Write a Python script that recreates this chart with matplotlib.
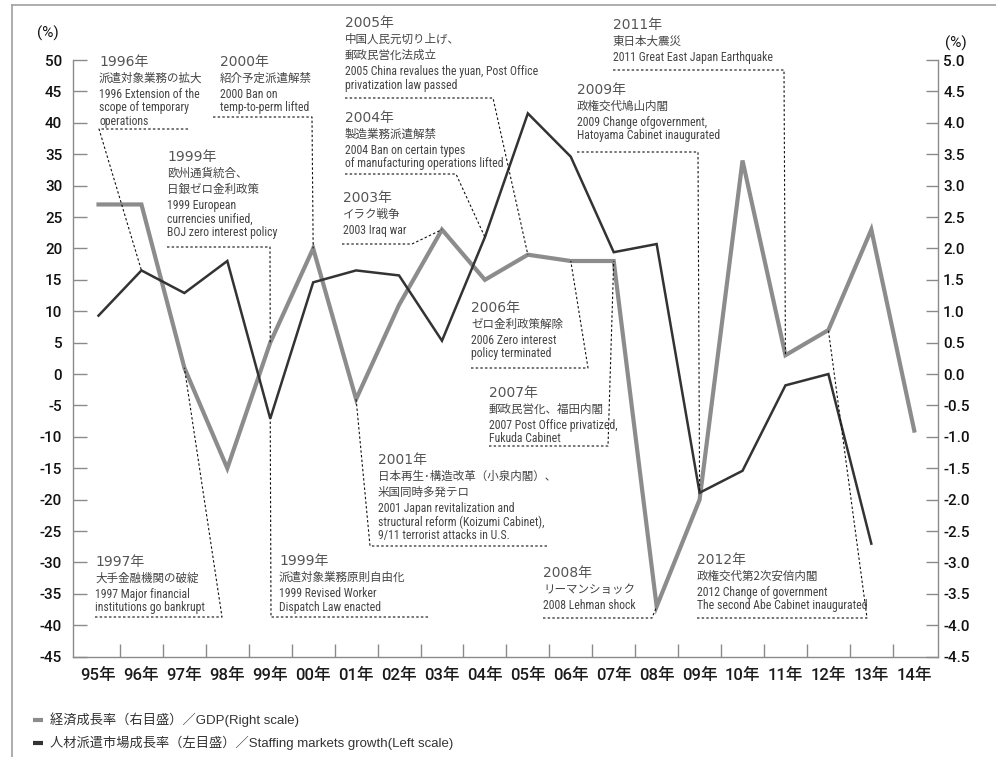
"""Staffing market growth vs Japanese GDP growth, 1995-2014, with event annotations."""

import matplotlib

matplotlib.use("Agg")
import matplotlib.pyplot as plt
import numpy as np
from matplotlib import font_manager
from matplotlib.transforms import Affine2D

W, H = 996, 757

years = ["95年", "96年", "97年", "98年", "99年", "00年", "01年", "02年", "03年", "04年",
         "05年", "06年", "07年", "08年", "09年", "10年", "11年", "12年", "13年", "14年"]
# GDP growth, right scale (%)
gdp = [2.7, 2.7, 0.1, -1.5, 0.5, 2.0, -0.4, 1.1, 2.3, 1.5,
       1.9, 1.8, 1.8, -3.7, -2.0, 3.4, 0.3, 0.7, 2.3, -0.9]
# staffing market growth, left scale (%), no value for 2014
staffing = [9.3, 16.5, 12.9, 18.0, -7.1, 14.6, 16.5, 15.7, 5.3, 21.8,
            41.5, 34.6, 19.4, 20.7, -18.9, -15.4, -1.8, 0.0, -27.0]

legend_labels = ["経済成長率（右目盛）／GDP(Right scale)",
                 "人材派遣市場成長率（左目盛）／Staffing markets growth(Left scale)"]

# event notes: text x, heading y (reference pixels), heading, jp lines, en lines,
# underline y, underline x0, x1, which end the leader leaves from, target point
events = [
    (99, 62, "1996年", ["派遣対象業務の拡大"],
     ["1996 Extension of the", "scope of temporary", "operations"],
     129, 99, 188, "L", ("staffing", 1)),
    (220, 62, "2000年", ["紹介予定派遣解禁"], ["2000 Ban on", "temp-to-perm lifted"],
     117, 213, 312, "R", ("gdp", 5)),
    (167, 157, "1999年", ["欧州通貨統合、", "日銀ゼロ金利政策"],
     ["1999 European", "currencies unified,", "BOJ zero interest policy"],
     247, 167, 270, "R", ("gdp", 4)),
    (95, 562, "1997年", ["大手金融機関の破綻"],
     ["1997 Major financial", "institutions go bankrupt"],
     617, 95, 222, "R", ("gdp", 2)),
    (279, 561, "1999年", ["派遣対象業務原則自由化"],
     ["1999 Revised Worker", "Dispatch Law enacted"],
     617, 271, 428, "L", ("staffing", 4)),
    (378, 460, "2001年", ["日本再生･構造改革（小泉内閣）、", "米国同時多発テロ"],
     ["2001 Japan revitalization and", "structural reform (Koizumi Cabinet),",
      "9/11 terrorist attacks in U.S."],
     546, 370, 547, "L", ("gdp", 6)),
    (343, 198, "2003年", ["イラク戦争"], ["2003 Iraq war"],
     244, 342, 412, "R", ("gdp", 8)),
    (345, 118, "2004年", ["製造業務派遣解禁"],
     ["2004 Ban on certain types", "of manufacturing operations lifted"],
     174, 345, 456, "R", ("staffing", 9)),
    (345, 23, "2005年", ["中国人民元切り上げ、", "郵政民営化法成立"],
     ["2005 China revalues the yuan, Post Office", "privatization law passed"],
     98, 345, 493, "R", ("gdp", 10)),
    (471, 308, "2006年", ["ゼロ金利政策解除"], ["2006 Zero interest", "policy terminated"],
     368, 471, 588, "R", ("gdp", 11)),
    (489, 393, "2007年", ["郵政民営化、福田内閣"],
     ["2007 Post Office privatized,", "Fukuda Cabinet"],
     446, 489, 608, "R", ("gdp", 12)),
    (543, 573, "2008年", ["リーマンショック"], ["2008 Lehman shock"],
     618, 543, 652, "R", ("gdp", 13)),
    (577, 90, "2009年", ["政権交代鳩山内閣"],
     ["2009 Change ofgovernment,", "Hatoyama Cabinet inaugurated"],
     152, 577, 698, "R", ("staffing", 14)),
    (613, 25, "2011年", ["東日本大震災"], ["2011 Great East Japan Earthquake"],
     70, 613, 784, "R", ("gdp", 16)),
    (697, 560, "2012年", ["政権交代第2次安倍内閣"],
     ["2012 Change of government", "The second Abe Cabinet inaugurated"],
     618, 697, 867, "R", ("gdp", 17)),
]

GRAY = "#8c8c8c"
DARK = "#333333"
AXIS = "#8a8a8a"

plt.rcParams["axes.unicode_minus"] = False
installed = {f.name for f in font_manager.fontManager.ttflist}
NARROW = next((n for n in ["Liberation Sans Narrow", "Roboto Condensed", "Open Sans Condensed"]
               if n in installed), "Liberation Sans")
CJK = "Noto Sans CJK JP"
SANS = ["Liberation Sans", CJK]
TICKFONT = ["Roboto", CJK]

fig = plt.figure(figsize=(W / 100, H / 100), dpi=100)
px = Affine2D().scale(1 / W, -1 / H).translate(0, 1) + fig.transFigure

ax = fig.add_axes([73.3 / W, 1 - 656.7 / H, 865 / W, (656.7 - 60) / H])
ax2 = ax.twinx()

x = np.arange(len(years))
ax2.plot(x, gdp, color=GRAY, lw=3.0, solid_joinstyle="miter", zorder=2)
ax.plot(x[:len(staffing)], staffing, color=DARK, lw=1.8, solid_joinstyle="miter", zorder=3)
ax.set_zorder(ax2.get_zorder() + 1)
ax.patch.set_visible(False)

ax.set_xlim(-0.587, 19.56)
ax.set_ylim(-45, 50)
ax2.set_ylim(-4.5, 5.0)

ax.set_yticks(np.arange(-45, 51, 5))
ax.set_yticklabels([f"{v:d}" for v in range(-45, 51, 5)])
ax2.set_yticks(np.arange(-4.5, 5.01, 0.5))
ax2.set_yticklabels([f"{v:.1f}" for v in np.arange(-4.5, 5.01, 0.5)])
ax.set_xticks(x)
ax.set_xticklabels(years, family=TICKFONT, fontsize=12, fontweight="medium", color="#1a1a1a")
ax.set_xticks(np.arange(0.5, 19, 1), minor=True)

ax.tick_params(axis="x", which="major", length=0, pad=8)
ax.tick_params(axis="x", which="minor", direction="in", length=9.4, width=1, color=AXIS)
ax.tick_params(axis="y", direction="in", length=10, width=1, color=AXIS, pad=8,
               labelsize=11, labelcolor="#111")
ax2.tick_params(axis="y", direction="in", length=8.6, width=1, color=AXIS, pad=3.5,
                labelsize=11, labelcolor="#111")
for lbl in ax.get_yticklabels() + ax2.get_yticklabels():
    lbl.set_family(TICKFONT)
    lbl.set_fontweight("medium")

for a in (ax, ax2):
    a.spines["top"].set_visible(False)
    for s in a.spines.values():
        s.set_color(AXIS)
        s.set_linewidth(1)
ax.spines["right"].set_visible(False)
ax2.spines["left"].set_visible(False)
ax2.spines["bottom"].set_visible(False)

fig.text(47.5, 33, "(%)", transform=px, ha="center", va="center", fontsize=11,
         family=TICKFONT, color="#111")
fig.text(956, 43, "(%)", transform=px, ha="center", va="center", fontsize=11,
         family=TICKFONT, color="#111")

# outer frame (top and left edges visible in the reference)
fig.add_artist(plt.Line2D([12, W], [5, 5], transform=px, color="#a0a0a0", lw=1.2))
fig.add_artist(plt.Line2D([12, 12], [5, H], transform=px, color="#a0a0a0", lw=1.2))


def to_ref_px(series, i):
    if series == "gdp":
        disp = ax2.transData.transform((i, gdp[i]))
    else:
        disp = ax.transData.transform((i, staffing[i]))
    return disp[0], H - disp[1]


dotted = dict(color="#111", lw=0.8, linestyle=(0, (2.2, 2.0)), transform=px)
for tx, ty, head, jp, en, ly, lx0, lx1, end, target in events:
    fig.text(tx, ty, head, transform=px, ha="left", va="center", fontsize=10,
             family=["DejaVu Sans", CJK], color="#555")
    y = ty + 16.5
    for line in jp:
        fig.text(tx, y, line, transform=px, ha="left", va="center", fontsize=8.3,
                 family=[CJK], color="#444")
        y += 16
    for line in en:
        fig.text(tx, y, line, transform=px, ha="left", va="center", fontsize=8.5,
                 family=NARROW, color="#444")
        y += 13.5
    fx, fy = to_ref_px(*target)
    sx = lx0 if end == "L" else lx1
    ox = lx1 if end == "L" else lx0
    fig.add_artist(plt.Line2D([ox, sx, fx], [ly, ly, fy], **dotted))

# legend
for k, (label, col) in enumerate(zip(legend_labels, [GRAY, DARK])):
    yy = 720 + 22.7 * k
    fig.add_artist(plt.Line2D([33, 43], [yy, yy], transform=px, color=col, lw=3.0,
                              solid_capstyle="butt"))
    fig.text(50, yy, label, transform=px, ha="left", va="center", fontsize=9.5,
             family=SANS, color="#333")

fig.savefig("out.png", dpi=100)
